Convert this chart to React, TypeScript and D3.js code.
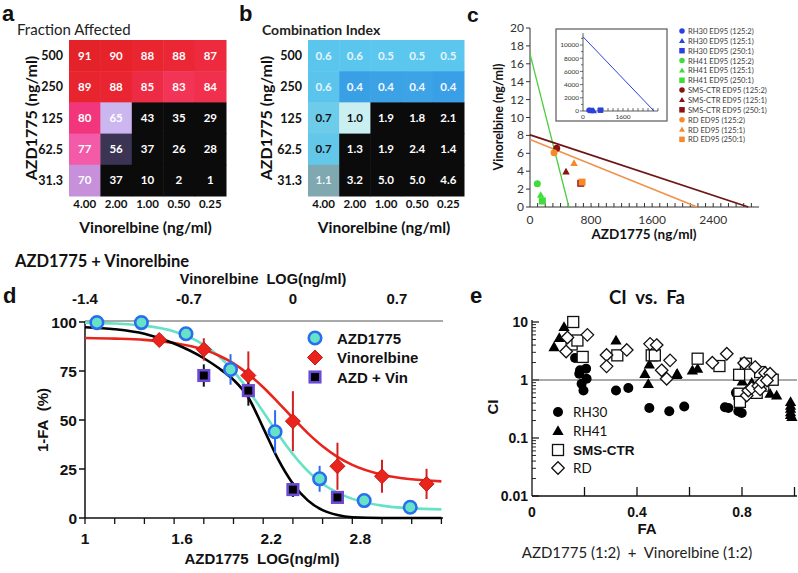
import React from 'react';
import * as d3 from 'd3';

// ---------- panel a / b : heatmaps ----------
const vinConc = ['4.00', '2.00', '1.00', '0.50', '0.25'];
const azdConc = ['500', '250', '125', '62.5', '31.3'];
const fractionAffected = [
  [91, 90, 88, 88, 87],
  [89, 88, 85, 83, 84],
  [80, 65, 43, 35, 29],
  [77, 56, 37, 26, 28],
  [70, 37, 10, 2, 1],
];
const combinationIndex = [
  ['0.6', '0.6', '0.5', '0.5', '0.5'],
  ['0.6', '0.4', '0.4', '0.4', '0.4'],
  ['0.7', '1.0', '1.9', '1.8', '2.1'],
  ['0.7', '1.3', '1.9', '2.4', '1.4'],
  ['1.1', '3.2', '5.0', '5.0', '4.6'],
];

// ---------- panel c : isobologram ----------
const cellLines = ['RH30', 'RH41', 'SMS-CTR', 'RD'];
const ratios = ['125:2', '125:1', '250:1'];
// [azd intercept at vin=0, vin intercept at azd=0]
const isoRH41 = [510, 17.1];
const isoSMS = [2860, 8.05];
const isoRD = [2190, 7.55];
const isoRH30 = [2840, 11250]; // inset
const ed95Cell = ['RH41', 'RH41', 'RH41', 'SMS-CTR', 'SMS-CTR', 'SMS-CTR', 'RD', 'RD', 'RD'];
const ed95Ratio = ['125:2', '125:1', '250:1', '125:2', '125:1', '250:1', '125:2', '125:1', '250:1'];
const ed95Azd = [96, 140, 162, 350, 472, 665, 315, 577, 682];
const ed95Vin = [2.6, 1.35, 0.67, 6.56, 3.95, 2.65, 6.07, 4.9, 2.78];
const insetRatio = ['125:2', '250:1', '125:1', '250:1'];
const insetAzd = [240, 330, 440, 700];
const insetVin = [120, 80, 0, 120];

// ---------- panel d : dose response ----------
const azdLog = [1.08, 1.38, 1.68, 1.98, 2.28, 2.58, 2.88, 3.19];
const azdResp = [99.7, 99.7, 94, 75.8, 44, 20, 8.9, 5.5];
const azdErr = [0, 0, 0, 7.8, 11, 6.6, 0, 0];
const vinLog = [-0.9, -0.6, -0.3, 0, 0.3, 0.6, 0.9];
const vinResp = [90.8, 86, 72.7, 49.4, 26.4, 21.3, 17.4];
const vinErr = [0, 5.7, 12.3, 15.3, 12, 8.4, 7.7];
const comboLog = [1.8, 2.1, 2.4, 2.7];
const comboResp = [72.7, 65, 14.5, 10.5];
const comboErr = [5.7, 7.7, 3.8, 2.5];
const fitAzdX = [1.0, 1.2, 1.4, 1.6, 1.8, 1.9, 2.0, 2.1, 2.2, 2.3, 2.4, 2.5, 2.6, 2.7, 2.8, 3.0, 3.2, 3.4];
const fitAzdY = [99.7, 99.2, 98.1, 95.2, 88.4, 82.7, 74.9, 65.2, 54.2, 42.9, 32.6, 24, 17.5, 12.9, 9.75, 6.3, 4.9, 4.4];
const fitVinX = [-1.4, -1.2, -1.0, -0.8, -0.6, -0.5, -0.4, -0.3, -0.2, -0.1, 0, 0.1, 0.2, 0.3, 0.4, 0.6, 0.8, 1.0];
const fitVinY = [91.8, 91.5, 90.9, 89.3, 85.9, 82.9, 78.9, 73.4, 66.7, 59, 51, 43.3, 36.6, 31.2, 27.1, 22.1, 19.75, 18.7];
const fitComboY = [97.3, 96.3, 94, 89, 81.5, 76.5, 70.5, 61.5, 46, 30, 17.5, 9, 4, 1.5, 0.4, 0, 0, 0];
const dBottomTicks = ['1', '1.6', '2.2', '2.8'];
const dTopTicks = ['-1.4', '-0.7', '0', '0.7'];

// ---------- panel e : CI vs Fa ----------
const rh30 = [[0.164, 2.4], [0.18, 1.28], [0.183, 1.47], [0.206, 1.57], [0.208, 1.05], [0.189, 0.86], [0.196, 0.66],
  [0.32, 0.66], [0.367, 0.73], [0.447, 0.33], [0.523, 0.29], [0.58, 0.35], [0.735, 0.34], [0.748, 0.33],
  [0.777, 0.6], [0.786, 0.29], [0.799, 0.27]];
const rh41 = [[0.084, 3.7], [0.104, 5.3], [0.122, 8.2], [0.32, 4.8], [0.43, 1.28], [0.443, 0.86], [0.447, 1.86],
  [0.551, 1.23], [0.553, 1.28], [0.611, 1.47], [0.631, 1.57], [0.801, 0.95], [0.837, 0.9], [0.86, 0.82],
  [0.907, 0.58], [0.932, 0.54], [0.985, 0.42], [0.985, 0.36], [0.985, 0.32], [0.985, 0.28], [0.985, 0.25], [0.99, 0.23]];
const smsCtr = [[0.157, 10], [0.151, 4.1], [0.173, 4.8], [0.193, 2.5], [0.325, 2.66], [0.456, 2.66], [0.468, 2.66],
  [0.631, 2.33], [0.714, 1.74], [0.789, 1.23], [0.815, 1.91], [0.79, 0.58], [0.792, 0.42], [0.856, 0.6],
  [0.869, 1.37], [0.881, 0.8], [0.917, 1.01]];
const rd = [[0.135, 5.4], [0.13, 3.1], [0.211, 6.0], [0.284, 2.7], [0.284, 1.72], [0.361, 3.3], [0.45, 4.2],
  [0.475, 4.0], [0.494, 1.47], [0.513, 1.05], [0.526, 2.18], [0.687, 1.99], [0.742, 2.84], [0.808, 1.96],
  [0.85, 1.67], [0.888, 1.32], [0.907, 1.28], [0.818, 0.54], [0.824, 0.66], [0.837, 0.73], [0.862, 0.79],
  [0.869, 0.69], [0.875, 0.92], [0.895, 0.98]];

// ---------- styles ----------
const CAL = 'Lato, "Open Sans", sans-serif';
const ARIAL = '"Liberation Sans", Arial, sans-serif';
const BLK = '#0b0b0b';
const faFill = [
  ['#e42229', '#e6232b', '#e9252f', '#eb2736', '#ed2a3e'],
  ['#e8242e', '#e92531', '#ee2b44', '#f23556', '#f0304c'],
  ['#f1367c', '#cbb6f0', BLK, BLK, BLK],
  ['#f35ba9', '#3b3553', BLK, BLK, BLK],
  ['#c690db', BLK, BLK, BLK, BLK],
];
const ciFill = [
  ['#5ac6ee', '#5ac6ee', '#5cc7ee', '#5cc7ee', '#5cc7ee'],
  ['#5ac4ec', '#3aa0e6', '#3ba2e6', '#3ca3e6', '#399fe7'],
  ['#6ccce9', '#c9eff1', BLK, BLK, BLK],
  ['#63c7ea', BLK, BLK, BLK, BLK],
  ['#7fa8b0', BLK, BLK, BLK, BLK],
];
const ciText = [
  ['#e4f5fc', '#e4f5fc', '#e4f5fc', '#e4f5fc', '#e4f5fc'],
  ['#e4f5fc', '#f2f8ff', '#f2f8ff', '#f2f8ff', '#f2f8ff'],
  ['#111', '#111', '#fff', '#fff', '#fff'],
  ['#111', '#fff', '#fff', '#fff', '#fff'],
  ['#eef6f8', '#fff', '#fff', '#fff', '#fff'],
];
const cellColor: Record<string, string> = { RH30: '#2c40e0', RH41: '#40dc3a', 'SMS-CTR': '#8a1212', RD: '#f58a2a' };
const ratioShape: Record<string, string> = { '125:2': 'circle', '125:1': 'triangle', '250:1': 'square' };

function Marker({ shape, x, y, s, fill, stroke, sw }: any) {
  if (shape === 'circle') return <circle cx={x} cy={y} r={s / 2} fill={fill} stroke={stroke} strokeWidth={sw || 0} />;
  if (shape === 'square') return <rect x={x - s / 2} y={y - s / 2} width={s} height={s} fill={fill} stroke={stroke} strokeWidth={sw || 0} />;
  if (shape === 'diamond') {
    const h = s / 2;
    return <path d={`M${x},${y - h}L${x + h},${y}L${x},${y + h}L${x - h},${y}Z`} fill={fill} stroke={stroke} strokeWidth={sw || 0} />;
  }
  const p = d3.symbol(d3.symbolTriangle, s * s * 0.5)();
  return <path d={p || ''} transform={`translate(${x},${y + s * 0.08})`} fill={fill} stroke={stroke} strokeWidth={sw || 0} />;
}

function Heatmap({ x0, x1, values, fills, textFills, rowLabelX, yTitleX }: any) {
  const xs = d3.scaleBand().domain(vinConc).range([x0, x1]);
  const ys = d3.scaleBand().domain(azdConc).range([40, 196]);
  return (
    <g>
      {azdConc.map((r, i) =>
        vinConc.map((c, j) => (
          <g key={r + c}>
            <rect x={xs(c)} y={ys(r)} width={xs.bandwidth() + 0.5} height={ys.bandwidth() + 0.5} fill={fills[i][j]} />
            <text x={(xs(c) as number) + xs.bandwidth() / 2} y={(ys(r) as number) + ys.bandwidth() / 2 + 4}
              textAnchor="middle" fontFamily={CAL} fontWeight="bold" fontSize={11.5}
              fill={textFills ? textFills[i][j] : '#fff'}>{values[i][j]}</text>
          </g>
        )))}
      {azdConc.map((r) => (
        <text key={r} x={rowLabelX} y={(ys(r) as number) + ys.bandwidth() / 2 + 4.5} textAnchor="end"
          fontFamily={CAL} fontWeight="bold" fontSize={12.5} fill="#111">{r}</text>
      ))}
      {vinConc.map((c) => (
        <text key={c} x={(xs(c) as number) + xs.bandwidth() / 2} y={208} textAnchor="middle"
          fontFamily={CAL} fontWeight="bold" fontSize={11.5} fill="#111">{c}</text>
      ))}
      <text x={(x0 + x1) / 2 - 2} y={233} textAnchor="middle" fontFamily={CAL} fontWeight="bold" fontSize={15.5} fill="#111">
        Vinorelbine (ng/ml)
      </text>
      <text transform={`translate(${yTitleX},118) rotate(-90)`} textAnchor="middle" fontFamily={CAL} fontWeight="bold"
        fontSize={16} fill="#111">AZD1775 (ng/ml)</text>
    </g>
  );
}

function PanelC() {
  const x = d3.scaleLinear().domain([0, 3000]).range([530, 759]);
  const y = d3.scaleLinear().domain([0, 20]).range([207, 28]);
  const xi = d3.scaleLinear().domain([0, 3000]).range([583, 658]);
  const yi = d3.scaleLinear().domain([0, 12000]).range([111, 31.8]);
  const line = (iso: number[], sx: any, sy: any) => d3.line()([[sx(0), sy(iso[1])], [sx(iso[0]), sy(0)]]) || '';
  const legendItems = cellLines.flatMap((c) => ratios.map((r) => ({ c, r })));
  return (
    <g fontFamily={CAL}>
      <text x={467} y={22} fontFamily={ARIAL} fontWeight="bold" fontSize={21} fill="#111">c</text>
      {/* axes */}
      <line x1={530} x2={530} y1={28} y2={207} stroke="#333" strokeWidth={1} />
      <line x1={530} x2={759} y1={207} y2={207} stroke="#333" strokeWidth={1} />
      {d3.range(0, 21, 2).map((v) => (
        <g key={v}>
          <line x1={526} x2={530} y1={y(v)} y2={y(v)} stroke="#333" />
          <text x={524} y={y(v) + 4} textAnchor="end" fontSize={12} fill="#333">{v}</text>
        </g>
      ))}
      {d3.range(100, 3000, 100).map((v) => (
        <line key={v} x1={x(v)} x2={x(v)} y1={207} y2={203} stroke="#333" />
      ))}
      {[0, 800, 1600, 2400].map((v) => (
        <text key={v} x={x(v)} y={224} textAnchor="middle" fontSize={12} fill="#333">{v}</text>
      ))}
      <text x={644} y={239} textAnchor="middle" fontWeight="bold" fontSize={13.5} fill="#111">AZD1775 (ng/ml)</text>
      <text transform="translate(503,117) rotate(-90)" textAnchor="middle" fontWeight="bold" fontSize={12.5} fill="#111">
        Vinorelbine (ng/ml)</text>
      {/* isobole lines */}
      <path d={line(isoRH41, x, y)} stroke="#4ccd3e" strokeWidth={1.3} fill="none" />
      <path d={line(isoSMS, x, y)} stroke="#6e1616" strokeWidth={1.8} fill="none" />
      <path d={line(isoRD, x, y)} stroke="#f0924c" strokeWidth={1.6} fill="none" />
      {ed95Azd.map((a, i) => (
        <Marker key={i} shape={ratioShape[ed95Ratio[i]]} x={x(a)} y={y(ed95Vin[i])} s={7}
          fill={cellColor[ed95Cell[i]]} />
      ))}
      {/* inset */}
      <rect x={556} y={29} width={111} height={92} fill="#fff" stroke="#666" strokeWidth={1.3} />
      <line x1={583} x2={583} y1={yi(11800)} y2={111} stroke="#333" strokeWidth={0.8} />
      <line x1={583} x2={658} y1={111} y2={111} stroke="#333" strokeWidth={0.8} />
      {d3.range(0, 12000, 1000).map((v) => (
        <line key={v} x1={v % 2000 === 0 ? 580 : 581} x2={583} y1={yi(v)} y2={yi(v)} stroke="#333" strokeWidth={0.7} />
      ))}
      {d3.range(0, 12000, 2000).map((v) => (
        <text key={v} x={579} y={yi(v) + 2.3} textAnchor="end" fontSize={6.5} fill="#333">{v}</text>
      ))}
      {d3.range(200, 3001, 200).map((v) => (
        <line key={v} x1={xi(v)} x2={xi(v)} y1={111} y2={108} stroke="#333" strokeWidth={0.7} />
      ))}
      {[0, 1600].map((v) => (
        <text key={v} x={xi(v)} y={119} textAnchor="middle" fontSize={6.5} fill="#333">{v}</text>
      ))}
      <path d={line(isoRH30, xi, yi)} stroke="#2a42d8" strokeWidth={1} fill="none" />
      {insetAzd.map((a, i) => (
        <Marker key={i} shape={ratioShape[insetRatio[i]]} x={xi(a)} y={yi(insetVin[i])} s={5.5} fill={cellColor.RH30} />
      ))}
      {/* legend */}
      {legendItems.map((d, i) => (
        <g key={i}>
          <Marker shape={ratioShape[d.r]} x={682} y={31 + i * 9.85} s={5.5} fill={cellColor[d.c]} />
          <text x={688} y={31 + i * 9.85 + 3} fontSize={7.6} fill="#3a3a3a">{`${d.c} ED95 (${d.r})`}</text>
        </g>
      ))}
    </g>
  );
}

function ErrBar({ x, y0, y1, color }: any) {
  return <line x1={x} x2={x} y1={y0} y2={y1} stroke={color} strokeWidth={2} />;
}

function PanelD() {
  const x = d3.scaleLinear().domain([1, 3.4]).range([85, 441.4]);
  const xt = d3.scaleLinear().domain([-1.4, 1.0]).range([85, 441.4]);
  const y = d3.scaleLinear().domain([0, 100]).range([518, 322]);
  const curve = (xs: number[], ys: number[], sx: any) =>
    d3.line<number>().x((_, i) => sx(xs[i])).y((v) => y(v)).curve(d3.curveMonotoneX)(ys) || '';
  const cyan = '#66e3c6';
  const blue = '#2a6ef0';
  const red = '#e8241c';
  const purple = '#6b4ad8';
  return (
    <g fontFamily={ARIAL}>
      <text x={15} y={267} fontFamily={CAL} fontWeight="bold" fontSize={16.5} fill="#111">AZD1775 + Vinorelbine</text>
      <text x={3} y={303} fontWeight="bold" fontSize={22} fill="#111">d</text>
      <text x={263} y={284} textAnchor="middle" fontWeight="bold" fontSize={14.5} fill="#111">
        {'Vinorelbine\u00a0\u00a0LOG(ng/ml)'}</text>
      {dTopTicks.map((t) => (
        <text key={t} x={xt(+t)} y={304} textAnchor="middle" fontWeight="bold" fontSize={15} fill="#111">{t}</text>
      ))}
      <line x1={85} x2={443} y1={321} y2={321} stroke="#555" strokeWidth={1.2} />
      <line x1={85} x2={85} y1={321} y2={518} stroke="#111" strokeWidth={1.5} />
      <line x1={85} x2={443} y1={518} y2={518} stroke="#111" strokeWidth={1.5} />
      {[0, 25, 50, 75, 100].map((v) => (
        <g key={v}>
          <line x1={79} x2={85} y1={y(v)} y2={y(v)} stroke="#111" strokeWidth={1.5} />
          <text x={77} y={y(v) + 5.5} textAnchor="end" fontWeight="bold" fontSize={15.5} fill="#111">{v}</text>
        </g>
      ))}
      {d3.range(1, 3.41, 0.2).map((v) => (
        <line key={v} x1={x(v)} x2={x(v)} y1={518} y2={524} stroke="#111" strokeWidth={1.3} />
      ))}
      {dBottomTicks.map((t) => (
        <text key={t} x={x(+t) + (t === '1' ? 0 : 8)} y={544} textAnchor="middle" fontWeight="bold" fontSize={15.5} fill="#111">{t}</text>
      ))}
      <text x={262} y={564} textAnchor="middle" fontWeight="bold" fontSize={15} fill="#111">
        {'AZD1775\u00a0\u00a0LOG(ng/ml)'}</text>
      <text transform="translate(48,420) rotate(-90)" textAnchor="middle" fontWeight="bold" fontSize={15} fill="#111">
        {'1-FA\u00a0\u00a0(%)'}</text>
      {/* curves */}
      <path d={curve(fitAzdX, fitAzdY, x)} fill="none" stroke={cyan} strokeWidth={2.6} />
      <path d={curve(fitVinX, fitVinY, xt)} fill="none" stroke={red} strokeWidth={2.6} />
      <path d={curve(fitAzdX, fitComboY, x)} fill="none" stroke="#000" strokeWidth={2.6} />
      {/* error bars */}
      {azdLog.map((v, i) => azdErr[i] > 0 &&
        <ErrBar key={'ae' + i} x={x(v)} y0={y(azdResp[i] - azdErr[i])} y1={y(azdResp[i] + azdErr[i])} color={blue} />)}
      {vinLog.map((v, i) => vinErr[i] > 0 &&
        <ErrBar key={'ve' + i} x={xt(v)} y0={y(vinResp[i] - vinErr[i])} y1={y(vinResp[i] + vinErr[i])} color="#d42020" />)}
      {comboLog.map((v, i) =>
        <ErrBar key={'ce' + i} x={x(v)} y0={y(comboResp[i] - comboErr[i])} y1={y(comboResp[i] + comboErr[i])} color="#111" />)}
      {/* points */}
      {azdLog.map((v, i) => (
        <Marker key={'a' + i} shape="circle" x={x(v)} y={y(azdResp[i])} s={12.5} fill={cyan} stroke={blue} sw={2.6} />
      ))}
      {vinLog.map((v, i) => (
        <Marker key={'v' + i} shape="diamond" x={xt(v)} y={y(vinResp[i])} s={15} fill={red} stroke="#c81818" sw={1} />
      ))}
      {comboLog.map((v, i) => (
        <Marker key={'c' + i} shape="square" x={x(v)} y={y(comboResp[i])} s={10.5} fill="#000" stroke={purple} sw={2.6} />
      ))}
      {/* legend */}
      <Marker shape="circle" x={315} y={338} s={12.5} fill={cyan} stroke={blue} sw={2.6} />
      <Marker shape="diamond" x={315} y={357.5} s={15} fill={red} stroke="#c81818" sw={1} />
      <Marker shape="square" x={315} y={377} s={10.5} fill="#000" stroke={purple} sw={2.6} />
      {['AZD1775', 'Vinorelbine', 'AZD + Vin'].map((t, i) => (
        <text key={t} x={337} y={343.5 + i * 19.5} fontWeight="bold" fontSize={15} fill="#111">{t}</text>
      ))}
    </g>
  );
}

function PanelE() {
  const x = d3.scaleLinear().domain([0, 1]).range([532, 794.5]);
  const y = d3.scaleLog().domain([0.01, 10]).range([496, 322]);
  const minor: number[] = [];
  [0.01, 0.1, 1].forEach((d) => d3.range(2, 10).forEach((k) => minor.push(d * k)));
  const series = [
    { data: rh30, shape: 'circle', s: 10, fill: '#000', name: 'RH30' },
    { data: rh41, shape: 'triangle', s: 10.5, fill: '#000', name: 'RH41' },
    { data: smsCtr, shape: 'square', s: 11, fill: '#fff', name: 'SMS-CTR' },
    { data: rd, shape: 'diamond', s: 12.5, fill: '#fff', name: 'RD' },
  ];
  return (
    <g fontFamily={ARIAL}>
      <text x={470} y={303} fontWeight="bold" fontSize={22} fill="#111">e</text>
      <text x={647} y={304} textAnchor="middle" fontFamily={CAL} fontWeight="bold" fontSize={18.5} fill="#111">
        {'CI\u00a0\u00a0vs.\u00a0\u00a0Fa'}</text>
      <line x1={532} x2={532} y1={320} y2={496} stroke="#111" strokeWidth={1.3} />
      <line x1={532} x2={797} y1={496} y2={496} stroke="#111" strokeWidth={1.3} />
      {minor.map((v) => (
        <line key={v} x1={532} x2={536} y1={y(v)} y2={y(v)} stroke="#111" strokeWidth={0.9} />
      ))}
      {[0.01, 0.1, 1, 10].map((v) => (
        <g key={v}>
          <line x1={532} x2={539} y1={y(v)} y2={y(v)} stroke="#111" strokeWidth={1.2} />
          <text x={528} y={y(v) + 5} textAnchor="end" fontWeight="bold" fontSize={14} fill="#111">{v}</text>
        </g>
      ))}
      {[0.2, 0.4, 0.6, 0.8, 1.0].map((v) => (
        <line key={v} x1={x(v)} x2={x(v)} y1={496} y2={487} stroke="#111" strokeWidth={1.3} />
      ))}
      {[0, 0.4, 0.8].map((v) => (
        <text key={v} x={x(v)} y={517} textAnchor="middle" fontWeight="bold" fontSize={14} fill="#111">{v}</text>
      ))}
      <text x={647} y={534} textAnchor="middle" fontWeight="bold" fontSize={15} fill="#111">FA</text>
      <text x={637} y={558} textAnchor="middle" fontFamily={CAL} fontSize={15} fill="#222">
        {'AZD1775 (1:2)\u00a0 +\u00a0 Vinorelbine (1:2)'}</text>
      <text transform="translate(498,407) rotate(-90)" textAnchor="middle" fontWeight="bold" fontSize={15} fill="#111">CI</text>
      <line x1={532} x2={797} y1={y(1)} y2={y(1)} stroke="#555" strokeWidth={1} />
      {series.map((s) => s.data.map((d, i) => (
        <Marker key={s.name + i} shape={s.shape} x={x(d[0])} y={y(d[1])} s={s.s} fill={s.fill} stroke="#111"
          sw={s.fill === '#fff' ? 1.3 : 0} />
      )))}
      {series.map((s, i) => (
        <g key={s.name}>
          <Marker shape={s.shape} x={558} y={[412, 431, 450, 468][i]} s={s.s} fill={s.fill} stroke="#111"
            sw={s.fill === '#fff' ? 1.3 : 0} />
          <text x={573} y={[412, 431, 450, 468][i] + 5} fontFamily={s.name === 'SMS-CTR' ? ARIAL : CAL}
            fontWeight={s.name === 'SMS-CTR' ? 'bold' : 'normal'} fontSize={13.5}
            fill="#111">{s.name}</text>
        </g>
      ))}
    </g>
  );
}

export default function App() {
  return (
    <svg width={798} height={573} style={{ position: 'absolute', left: 0, top: 0, background: '#fff' }}>
      <rect width={798} height={573} fill="#fff" />
      {/* panel a */}
      <text x={2} y={21} fontFamily={ARIAL} fontWeight="bold" fontSize={22} fill="#111">a</text>
      <text x={17} y={35} fontFamily={CAL} fontSize={15} fill="#222">Fraction Affected</text>
      <Heatmap x0={69} x1={226} values={fractionAffected} fills={faFill} rowLabelX={63} yTitleX={37} />
      {/* panel b */}
      <text x={239} y={21} fontFamily={ARIAL} fontWeight="bold" fontSize={22} fill="#111">b</text>
      <text x={262} y={35} fontFamily={CAL} fontWeight="bold" fontSize={14} fill="#222">Combination Index</text>
      <Heatmap x0={308} x1={464} values={combinationIndex} fills={ciFill} textFills={ciText} rowLabelX={302} yTitleX={272} />
      <PanelC />
      <PanelD />
      <PanelE />
    </svg>
  );
}
